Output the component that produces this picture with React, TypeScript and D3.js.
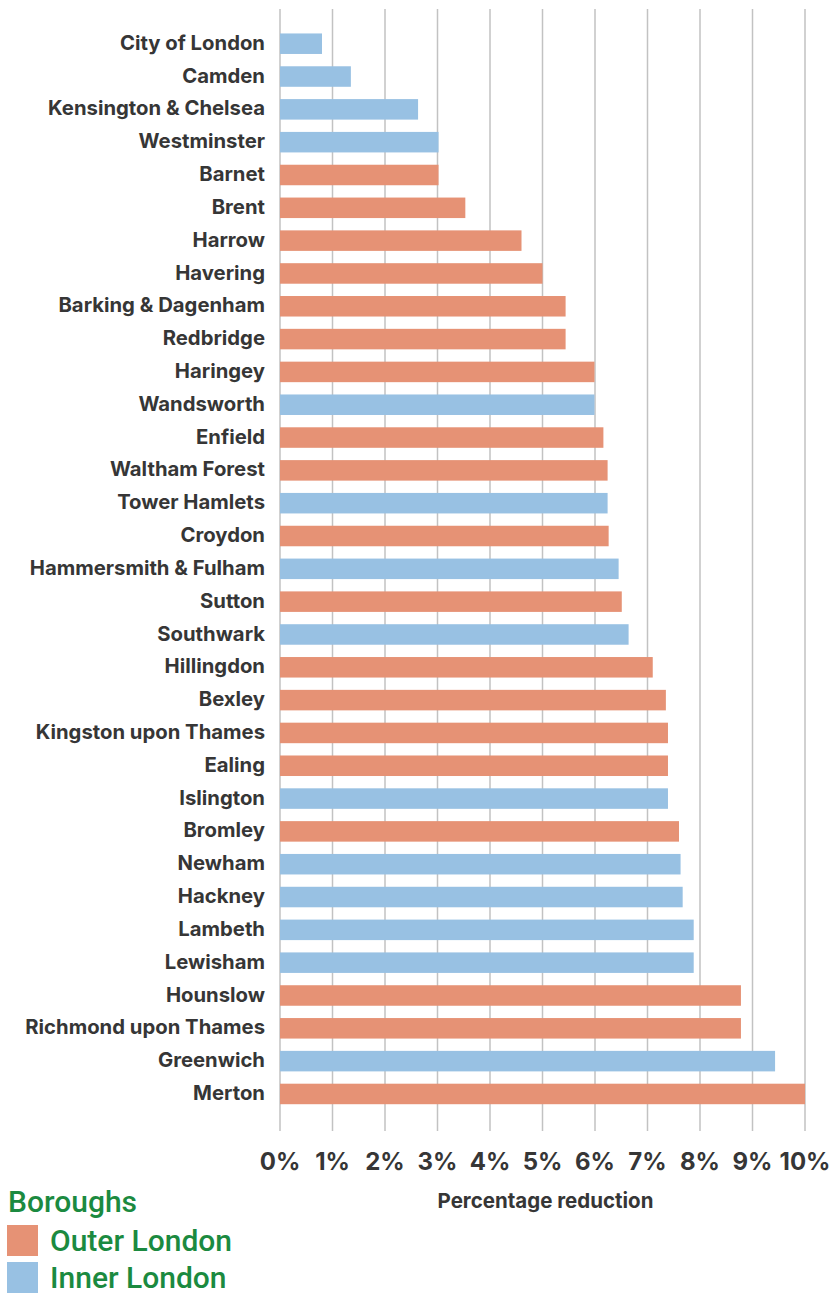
import React from 'react';
import * as d3 from 'd3';

// Boroughs, top to bottom
const boroughs = [
  'City of London', 'Camden', 'Kensington & Chelsea', 'Westminster', 'Barnet', 'Brent',
  'Harrow', 'Havering', 'Barking & Dagenham', 'Redbridge', 'Haringey', 'Wandsworth',
  'Enfield', 'Waltham Forest', 'Tower Hamlets', 'Croydon', 'Hammersmith & Fulham', 'Sutton',
  'Southwark', 'Hillingdon', 'Bexley', 'Kingston upon Thames', 'Ealing', 'Islington',
  'Bromley', 'Newham', 'Hackney', 'Lambeth', 'Lewisham', 'Hounslow',
  'Richmond upon Thames', 'Greenwich', 'Merton',
];

// Percentage reduction (%)
const reduction = [
  0.8, 1.35, 2.63, 3.02, 3.02, 3.53,
  4.6, 5.0, 5.44, 5.44, 5.99, 5.99,
  6.16, 6.24, 6.24, 6.26, 6.45, 6.51,
  6.64, 7.1, 7.35, 7.39, 7.39, 7.39,
  7.6, 7.63, 7.67, 7.88, 7.88, 8.78,
  8.78, 9.43, 10.0,
];

// I = Inner London, O = Outer London
const zone = [
  'I', 'I', 'I', 'I', 'O', 'O',
  'O', 'O', 'O', 'O', 'O', 'I',
  'O', 'O', 'I', 'O', 'I', 'O',
  'I', 'O', 'O', 'O', 'O', 'I',
  'O', 'I', 'I', 'I', 'I', 'O',
  'O', 'I', 'O',
];

const ticks = [0, 1, 2, 3, 4, 5, 6, 7, 8, 9, 10];

const legendTitle = 'Boroughs';
const legendItems = [
  { key: 'O', label: 'Outer London' },
  { key: 'I', label: 'Inner London' },
];

const colors: Record<string, string> = { O: '#e69275', I: '#98c1e3' };

const W = 832;
const H = 1295;

export default function App() {
  const x = d3.scaleLinear().domain([0, 10]).range([280, 805]);
  const step = 32.82;
  const y = d3.scaleBand()
    .domain(boroughs)
    .range([27.3, 27.3 + step * boroughs.length])
    .paddingInner(0.375)
    .paddingOuter(0.1875);

  const labelFont = 'Inter, "Noto Sans", sans-serif';

  return (
    <svg width={W} height={H} style={{ position: 'absolute', left: 0, top: 0, background: '#fff' }}>
      {/* gridlines */}
      {ticks.map(t => (
        <line key={t} x1={x(t)} x2={x(t)} y1={9} y2={1131} stroke="#c2c2c2" strokeWidth={1.5} />
      ))}

      {/* bars */}
      {boroughs.map((b, i) => (
        <rect
          key={b}
          x={x(0)}
          y={y(b)}
          width={x(reduction[i]) - x(0)}
          height={y.bandwidth()}
          fill={colors[zone[i]]}
        />
      ))}

      {/* category labels */}
      {boroughs.map(b => (
        <text
          key={b}
          x={265}
          y={(y(b) as number) + y.bandwidth() / 2}
          dy="0.3em"
          textAnchor="end"
          fontFamily={labelFont}
          fontWeight={700}
          fontSize={20.3}
          fill="#363636"
        >{b}</text>
      ))}

      {/* x tick labels */}
      {ticks.map(t => (
        <text
          key={t}
          x={x(t)}
          y={1170}
          textAnchor="middle"
          fontFamily={labelFont}
          fontWeight={700}
          fontSize={24}
          fill="#363636"
        >{`${t}%`}</text>
      ))}

      <text
        x={(x(0) + x(10)) / 2 + 3}
        y={1208}
        textAnchor="middle"
        fontFamily={labelFont}
        fontWeight={700}
        fontSize={20.5}
        fill="#363636"
      >Percentage reduction</text>

      {/* legend */}
      <text x={8} y={1212} fontFamily="Roboto, sans-serif" fontWeight={500} fontSize={30} fill="#1b8a40">{legendTitle}</text>
      {legendItems.map((d, i) => (
        <g key={d.key} transform={`translate(7,${1225 + i * 37})`}>
          <rect width={31} height={31} fill={colors[d.key]} />
          <text x={43} y={26} fontFamily="Roboto, sans-serif" fontWeight={500} fontSize={30} fill="#1b8a40">{d.label}</text>
        </g>
      ))}
    </svg>
  );
}
